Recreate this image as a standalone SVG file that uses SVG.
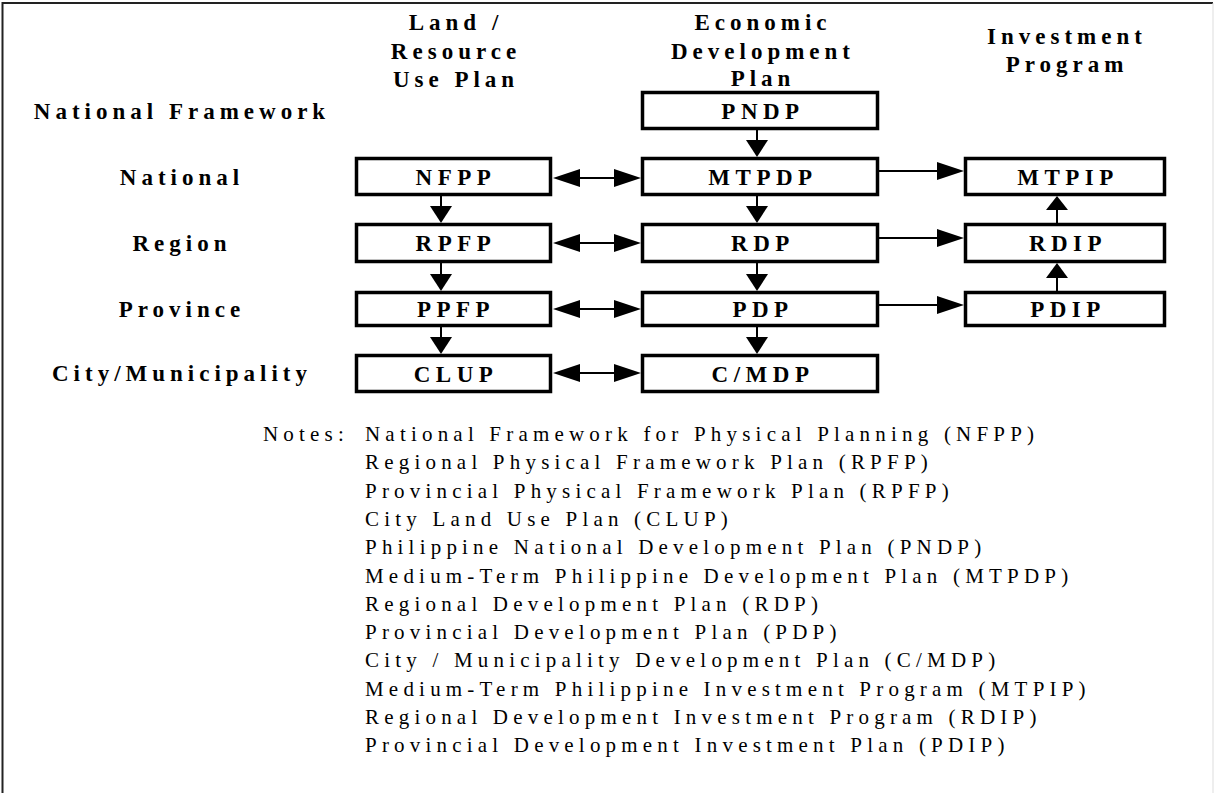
<svg xmlns="http://www.w3.org/2000/svg" width="1214" height="793" viewBox="0 0 1214 793">
<style>
.b{font-family:"Liberation Serif","Times New Roman",serif;font-weight:bold;font-size:23px;letter-spacing:5px;fill:#000}
.c{text-anchor:middle}
.box rect{fill:#fff;stroke:#000;stroke-width:3.5}
.box text{font-family:"Liberation Serif","Times New Roman",serif;font-weight:bold;font-size:23px;letter-spacing:5.5px;text-anchor:middle;fill:#000}
.n{font-family:"Liberation Serif","Times New Roman",serif;font-size:21px;letter-spacing:5.2px;fill:#000}
.conn line{stroke:#000;stroke-width:2}
.conn polygon{fill:#000}
</style>
<rect width="1214" height="793" fill="#fff"/>
<path d="M2.5,793 V3 H1213" fill="none" stroke="#222" stroke-width="2"/>
<line x1="1213" y1="3" x2="1213" y2="793" stroke="#ddd" stroke-width="1"/>

<g id="headers" class="b c">
<text x="456" y="30">Land /</text>
<text x="456" y="59">Resource</text>
<text x="456" y="87">Use Plan</text>
<text x="763" y="30">Economic</text>
<text x="763" y="59">Development</text>
<text x="763" y="86">Plan</text>
<text x="1067" y="44">Investment</text>
<text x="1067" y="72">Program</text>
</g>
<g id="rowlabels" class="b c">
<text x="182" y="119">National Framework</text>
<text x="182" y="185">National</text>
<text x="182" y="251">Region</text>
<text x="182" y="317">Province</text>
<text x="182" y="381">City/Municipality</text>
</g>

<g id="connectors" class="conn">
<line x1="757" y1="130" x2="757" y2="141"/><polygon points="746,140 768,140 757,157"/>
<line x1="757" y1="196" x2="757" y2="207"/><polygon points="746,206 768,206 757,223"/>
<line x1="757" y1="263" x2="757" y2="275"/><polygon points="746,274 768,274 757,291"/>
<line x1="757" y1="327" x2="757" y2="338"/><polygon points="746,337 768,337 757,354"/>
<line x1="441" y1="196" x2="441" y2="207"/><polygon points="430,206 452,206 441,223"/>
<line x1="441" y1="263" x2="441" y2="275"/><polygon points="430,274 452,274 441,291"/>
<line x1="441" y1="327" x2="441" y2="338"/><polygon points="430,337 452,337 441,354"/>
<line x1="578" y1="178" x2="616" y2="178"/><polygon points="553,178 580,169 580,187"/><polygon points="641,178 614,169 614,187"/>
<line x1="578" y1="243" x2="616" y2="243"/><polygon points="553,243 580,234 580,252"/><polygon points="641,243 614,234 614,252"/>
<line x1="578" y1="309" x2="616" y2="309"/><polygon points="553,309 580,300 580,318"/><polygon points="641,309 614,300 614,318"/>
<line x1="578" y1="373" x2="616" y2="373"/><polygon points="553,373 580,364 580,382"/><polygon points="641,373 614,364 614,382"/>
<line x1="879" y1="171" x2="939" y2="171"/><polygon points="964,171 937,162 937,180"/>
<line x1="879" y1="238" x2="939" y2="238"/><polygon points="964,238 937,229 937,247"/>
<line x1="879" y1="305" x2="939" y2="305"/><polygon points="964,305 937,296 937,314"/>
<line x1="1057" y1="224" x2="1057" y2="209"/><polygon points="1046,210 1068,210 1057,196"/>
<line x1="1057" y1="292" x2="1057" y2="277"/><polygon points="1046,278 1068,278 1057,263"/>
</g>

<g id="PNDP" class="box"><rect x="642.5" y="92.5" width="235" height="36"/><text x="763" y="119">PNDP</text></g>
<g id="NFPP" class="box"><rect x="356.5" y="158.5" width="194" height="36"/><text x="456" y="185">NFPP</text></g>
<g id="MTPDP" class="box"><rect x="642.5" y="158.5" width="235" height="36"/><text x="763" y="185">MTPDP</text></g>
<g id="MTPIP" class="box"><rect x="965.5" y="158.5" width="199" height="36"/><text x="1068" y="185">MTPIP</text></g>
<g id="RPFP" class="box"><rect x="356.5" y="224.5" width="194" height="37"/><text x="456" y="251">RPFP</text></g>
<g id="RDP" class="box"><rect x="642.5" y="224.5" width="235" height="37"/><text x="763" y="251">RDP</text></g>
<g id="RDIP" class="box"><rect x="965.5" y="224.5" width="199" height="37"/><text x="1068" y="251">RDIP</text></g>
<g id="PPFP" class="box"><rect x="356.5" y="292.5" width="194" height="33"/><text x="456" y="317">PPFP</text></g>
<g id="PDP" class="box"><rect x="642.5" y="292.5" width="235" height="33"/><text x="763" y="317">PDP</text></g>
<g id="PDIP" class="box"><rect x="965.5" y="292.5" width="199" height="33"/><text x="1068" y="317">PDIP</text></g>
<g id="CLUP" class="box"><rect x="356.5" y="355.5" width="194" height="36"/><text x="456" y="382">CLUP</text></g>
<g id="CMDP" class="box"><rect x="642.5" y="355.5" width="235" height="36"/><text x="763" y="382">C/MDP</text></g>

<g id="notes" class="n">
<text x="263" y="441">Notes:</text>
<text x="365" y="441">National Framework for Physical Planning (NFPP)</text>
<text x="365" y="469.3">Regional Physical Framework Plan (RPFP)</text>
<text x="365" y="497.6">Provincial Physical Framework Plan (RPFP)</text>
<text x="365" y="525.9">City Land Use Plan (CLUP)</text>
<text x="365" y="554.2">Philippine National Development Plan (PNDP)</text>
<text x="365" y="582.5">Medium-Term Philippine Development Plan (MTPDP)</text>
<text x="365" y="610.8">Regional Development Plan (RDP)</text>
<text x="365" y="639.1">Provincial Development Plan (PDP)</text>
<text x="365" y="667.4">City / Municipality Development Plan (C/MDP)</text>
<text x="365" y="695.7">Medium-Term Philippine Investment Program (MTPIP)</text>
<text x="365" y="724">Regional Development Investment Program (RDIP)</text>
<text x="365" y="752.3">Provincial Development Investment Plan (PDIP)</text>
</g>
</svg>
